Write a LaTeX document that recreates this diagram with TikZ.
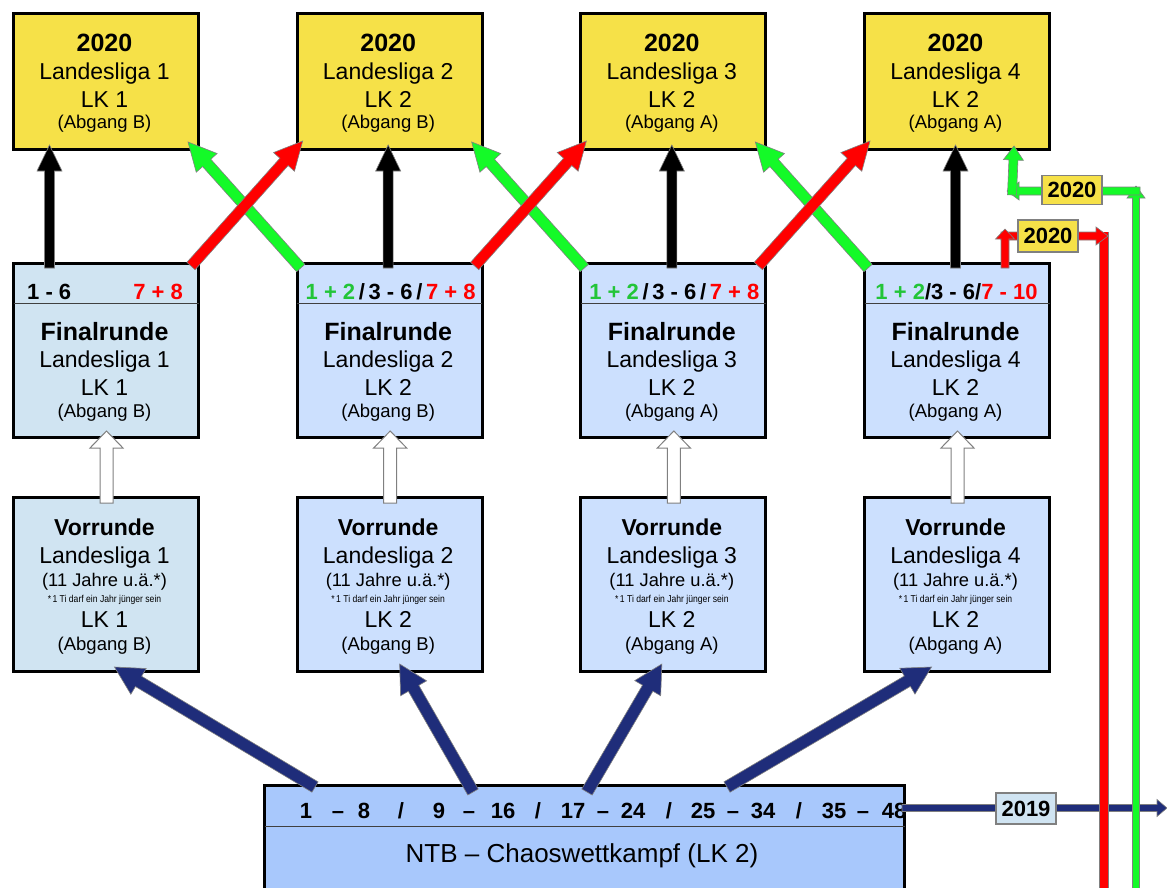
\documentclass[tikz,border=0pt]{standalone}
\usepackage{fontspec}
\setmainfont{Liberation Sans}
\usepackage{graphicx}
\usetikzlibrary{calc}
\definecolor{ylw}{RGB}{246,225,72}
\definecolor{bxA}{RGB}{208,228,242}
\definecolor{bxB}{RGB}{204,224,254}
\definecolor{bxC}{RGB}{168,200,252}
\definecolor{navy}{RGB}{31,45,122}
\definecolor{grn}{RGB}{20,250,40}
\definecolor{grnT}{RGB}{34,197,56}
\definecolor{rd}{RGB}{255,0,0}
\definecolor{outl}{RGB}{128,128,128}
\newcommand\fsz[1]{\fontsize{#1}{#1}\selectfont}
% block arrow: #1 style, #2 from, #3 to, #4 half shaft, #5 half head, #6 head length
\newcommand\blkarrow[6]{%
  \coordinate (bah) at ($(#3)!#6!(#2)$);
  \filldraw[#1] ($(#2)!#4!90:(#3)$) -- ($(bah)!#4!-90:(#2)$) -- ($(bah)!#5!-90:(#2)$) -- (#3)
     -- ($(bah)!#5!90:(#2)$) -- ($(bah)!#4!90:(#2)$) -- ($(#2)!#4!-90:(#3)$) -- cycle;
}
\begin{document}
\begin{tikzpicture}[x=1pt,y=-1pt,
  box/.style={draw=black, line width=3pt, rectangle, minimum width=185pt, anchor=north west, inner sep=0pt},
  lbl/.style={anchor=base, inner sep=0pt},
  tag/.style={draw=outl, line width=1.8pt, inner sep=0pt, minimum width=60pt, font=\fsz{22}\bfseries},
  blk/.style={fill=black, draw=outl, line width=0.6pt},
  redA/.style={fill=rd, draw=outl, line width=0.6pt},
  grnA/.style={fill=grn, draw=outl, line width=0.6pt},
  blueA/.style={fill=navy, draw=outl, line width=0.6pt},
  whtA/.style={fill=white, draw=outl, line width=1pt}]
\clip (0,0) rectangle (1167,888);
\fill[white] (0,0) rectangle (1167,888);

\foreach \i/\lk/\ab/\fc in {1/1/B/bxA,2/2/B/bxB,3/2/A/bxB,4/2/A/bxB}{
  \pgfmathsetmacro\xl{12+283.67*(\i-1)}
  \pgfmathsetmacro\xc{\xl+92.5}
  % top yellow box
  \node[box, fill=ylw, minimum height=136pt] (Y\i) at (\xl,12) {};
  \node[lbl, font=\fsz{25}\bfseries] (Ya\i) at (\xc,52) {2020};
  \node[lbl, font=\fsz{23}] (Yb\i) at (\xc,80) {Landesliga \i};
  \node[lbl, font=\fsz{23}] (Yc\i) at (\xc,108) {LK \lk};
  \node[lbl, font=\fsz{18.5}] (Yd\i) at (\xc,129) {(Abgang \ab)};
  % Finalrunde box
  \node[box, fill=\fc, minimum height=174pt] (F\i) at (\xl,262) {};
  \draw[line width=1pt, black!75] ($(F\i.north west)+(1.5,41)$) -- ($(F\i.north east)+(-1.5,41)$);
  \node[lbl, font=\fsz{25}\bfseries] (Fa\i) at (\xc,340) {Finalrunde};
  \node[lbl, font=\fsz{23}] (Fb\i) at (\xc,367) {Landesliga \i};
  \node[lbl, font=\fsz{23}] (Fc\i) at (\xc,395) {LK \lk};
  \node[lbl, font=\fsz{18.5}] (Fd\i) at (\xc,417) {(Abgang \ab)};
  % Vorrunde box
  \node[box, fill=\fc, minimum height=174pt] (V\i) at (\xl,496) {};
  \node[lbl, font=\fsz{23}\bfseries] (Va\i) at (\xc,535) {Vorrunde};
  \node[lbl, font=\fsz{23}] (Vb\i) at (\xc,563) {Landesliga \i};
  \node[lbl, font=\fsz{18.3}] (Vc\i) at (\xc,586) {(11 Jahre u.ä.*)};
  \node[lbl, font=\fsz{10}] (Ve\i) at (\xc,602) {\scalebox{0.86}[1]{*\,1 Ti darf ein Jahr jünger sein}};
  \node[lbl, font=\fsz{23}] (Vf\i) at (\xc,627) {LK \lk};
  \node[lbl, font=\fsz{18.5}] (Vg\i) at (\xc,650) {(Abgang \ab)};
}

% headers of Finalrunde boxes
\node[anchor=base west, inner sep=0pt, font=\fsz{22}\bfseries] (H1a) at (27,299.5) {1 - 6};
\node[anchor=base east, inner sep=0pt, font=\fsz{22}\bfseries, text=rd] (H1b) at (183,299.5) {7 + 8};
\node[lbl, font=\fsz{22}\bfseries] (H2) at ($(F2.north)+(1,37.5)$) {\textcolor{grnT}{1 + 2}\,/\,3 - 6\,/\,\textcolor{rd}{7 + 8}};
\node[lbl, font=\fsz{22}\bfseries] (H3) at ($(F3.north)+(1,37.5)$) {\textcolor{grnT}{1 + 2}\,/\,3 - 6\,/\,\textcolor{rd}{7 + 8}};
\node[lbl, font=\fsz{22}\bfseries] (H4) at ($(F4.north)+(-0.5,37.5)$) {\textcolor{grnT}{1 + 2}/3 - 6/\textcolor{rd}{7 - 10}};

% bottom box
\node[box, fill=bxC, minimum width=640pt, minimum height=130pt] (B) at (263,784) {};
\draw[line width=1pt, black!75] ($(B.north west)+(1.5,42)$) -- ($(B.north east)+(-1.5,42)$);
\begin{scope}
  \clip (263,786) rectangle (905,826);
  \foreach \t/\x [count=\k] in {1/306,–/338,8/364,\slash/401,9/439,–/469,16/503,\slash/538,17/573,–/603,24/633,\slash/669,25/703,–/733,34/763,\slash/799,35/834,–/863,48/894}{
    \node[lbl, font=\fsz{22}\bfseries] (bh\k) at (\x,818) {\t};
  }
\end{scope}
\node[lbl, font=\fsz{26}] (Bt) at (582,862) {NTB – Chaoswettkampf (LK 2)};

% black vertical arrows
\coordinate (kb1) at ($(F1.north)+(-56.5,6)$);
\coordinate (kt1) at ($(Y1.south)+(-56.5,-6)$);
\blkarrow{blk}{kb1}{kt1}{5pt}{12.5pt}{26pt}
\foreach \i in {2,3,4}{
  \coordinate (kb\i) at ($(F\i.north)+(-1.5,6)$);
  \coordinate (kt\i) at ($(Y\i.south)+(-1.5,-6)$);
  \blkarrow{blk}{kb\i}{kt\i}{5pt}{12.5pt}{26pt}
}

% crossing red / green arrows
\foreach \i/\j in {1/2,2/3,3/4}{
  \coordinate (rs\i) at ($(F\i.north east)+(-9,4)$);
  \coordinate (rt\i) at ($(Y\j.south west)+(7,-10)$);
  \coordinate (gs\i) at ($(F\j.north west)+(5,6)$);
  \coordinate (gt\i) at ($(Y\i.south east)+(-12,-9)$);
  \blkarrow{grnA}{gs\i}{gt\i}{5.5pt}{14pt}{28pt}
  \blkarrow{redA}{rs\i}{rt\i}{5.5pt}{14pt}{28pt}
}

% white arrows Vorrunde -> Finalrunde
\foreach \i in {1,2,3,4}{
  \coordinate (ws\i) at ($(V\i.north)+(0.5,7)$);
  \coordinate (wt\i) at ($(F\i.south)+(0.5,-8)$);
  \blkarrow{whtA}{ws\i}{wt\i}{6.5pt}{16.5pt}{17pt}
}

% blue arrows from bottom box
\coordinate (bs1) at ($(B.north west)+(52,3)$);
\coordinate (bt1) at ($(V1.south)+(8.5,-6)$);
\coordinate (bs2) at ($(B.north west)+(210,8)$);
\coordinate (bt2) at ($(V2.south)+(10,-9)$);
\coordinate (bs3) at ($(B.north west)+(324,8)$);
\coordinate (bt3) at ($(V3.south)+(-11.5,-9)$);
\coordinate (bs4) at ($(B.north west)+(464,3)$);
\coordinate (bt4) at ($(V4.south)+(-25.5,-6)$);
\foreach \i in {1,2,3,4}{
  \blkarrow{blueA}{bs\i}{bt\i}{6pt}{15pt}{28pt}
}

% 2019 horizontal arrow
\coordinate (hs) at ($(B.north east)+(-4,24)$);
\coordinate (he) at (1167,808);
\blkarrow{blueA}{hs}{he}{3.5pt}{8.5pt}{10pt}
\node[tag, fill=bxA, minimum height=31pt] (btag) at (1026,808.5) {2019};

% red bent arrow from Finalrunde 4
\coordinate (ra0) at ($(F4.north east)+(-46,6)$);
\coordinate (ra1) at ($(F4.north east)+(-46,-33)$);
\coordinate (ra2) at ($(F4.north east)+(-50,-26)$);
\coordinate (ra3) at ($(F4.north east)+(57,-26)$);
\coordinate (ra4) at ($(F4.north east)+(53,-30)$);
\coordinate (ra5) at ($(ra4)+(0,680)$);
\draw[outl, line width=9.2pt] (ra4) -- (ra5);
\draw[rd, line width=8pt] (ra4) -- (ra5);
\blkarrow{redA}{ra2}{ra3}{4pt}{9pt}{12pt}
\blkarrow{redA}{ra0}{ra1}{4pt}{9.5pt}{10pt}

% green bent arrow to Landesliga 4
\coordinate (ga0) at (1136,900);
\coordinate (ga1) at (1136,186);
\coordinate (ga2) at (1140,191);
\coordinate (ga3) at (1007,191);
\coordinate (ga4) at (1012,195);
\coordinate (ga5) at ($(Y4.south east)+(-37,-5)$);
\blkarrow{grnA}{ga0}{ga1}{3.5pt}{9pt}{12pt}
\blkarrow{grnA}{ga2}{ga3}{4pt}{9pt}{12pt}
\blkarrow{grnA}{ga4}{ga5}{4.5pt}{10pt}{14pt}

\node[tag, fill=ylw, minimum height=29pt] (gtag) at (1072,190) {2020};
\node[tag, fill=ylw, minimum height=32pt] (rtag) at (1048,236) {2020};
\end{tikzpicture}
\end{document}
